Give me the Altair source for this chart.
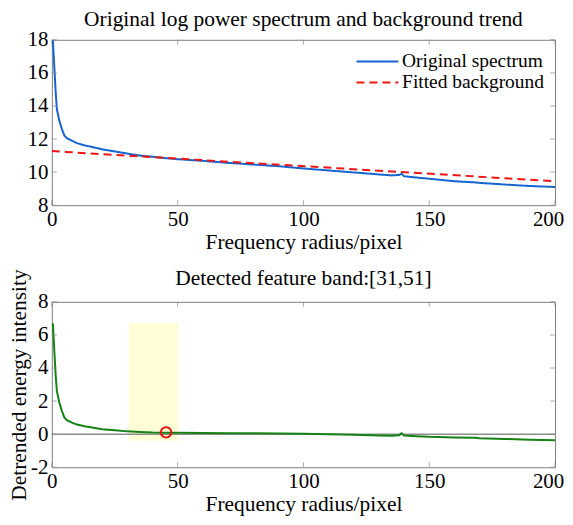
import altair as alt
import pandas as pd

# ---- data ----
freq = [0.4, 1, 1.5, 2, 3, 4, 5, 6, 8, 10, 13, 16, 20, 25, 30, 35, 40, 45, 50,
        60, 70, 80, 90, 100, 110, 120, 130, 135, 138, 139, 140, 145, 150, 160,
        168, 170, 180, 190, 200]
original = [18.0, 16.3, 14.9, 13.8, 13.1, 12.6, 12.2, 12.05, 11.9, 11.75, 11.62,
            11.52, 11.38, 11.25, 11.12, 11.0, 10.93, 10.85, 10.78, 10.68, 10.56,
            10.46, 10.36, 10.22, 10.1, 9.98, 9.86, 9.8, 9.83, 9.9, 9.75, 9.67,
            9.6, 9.45, 9.38, 9.35, 9.25, 9.16, 9.1]
detrended = [6.7, 5.0, 3.6, 2.6, 1.9, 1.4, 1.0, 0.85, 0.7, 0.58, 0.48, 0.4, 0.3,
             0.24, 0.17, 0.13, 0.1, 0.09, 0.08, 0.07, 0.06, 0.05, 0.04, 0.02,
             -0.01, -0.04, -0.08, -0.09, -0.06, 0.05, -0.08, -0.12, -0.16, -0.2,
             -0.22, -0.25, -0.29, -0.33, -0.36]
fit_x = [0, 200]
fit_y = [11.27, 9.45]
band_x = [30.6, 50.3]
band_y = [-0.4, 6.7]
peak_x = [45.4]
peak_y = [0.11]
zero_y = [0]
series_names = ["Original spectrum", "Fitted background"]
x_ticks = [0, 50, 100, 150, 200]
top_y_ticks = [8, 10, 12, 14, 16, 18]
bot_y_ticks = [-2, 0, 2, 4, 6, 8]

FONT = "Liberation Serif"
W, H = 505, 166
TICK_COLOR = "#888888"
XDOM, TOP_YDOM, BOT_YDOM = [0, 200], [8, 18], [-2, 8]

x_axis = alt.Axis(values=x_ticks, title="Frequency radius/pixel", labelOverlap=False,
                  labelPadding=3, titlePadding=2,
                  labelOffset={"condition": {"test": "datum.value == 200", "value": -7},
                               "value": 0})
top_y_axis = alt.Axis(values=top_y_ticks, title=None, labelOverlap=False, labelPadding=4)
bot_y_axis = alt.Axis(values=bot_y_ticks, title="Detrended energy intensity",
                      labelOverlap=False, labelPadding=4, titlePadding=0,
                      labelExpr="replace(datum.label, '\u2212', '-')")


def X(field="x"):
    return alt.X(f"{field}:Q", scale=alt.Scale(domain=XDOM, nice=False), axis=x_axis)


def Y(dom, axis, field="y"):
    return alt.Y(f"{field}:Q", scale=alt.Scale(domain=dom, nice=False), axis=axis)


def frame_ticks(ydom, yticks, yaxis):
    """Inward MATLAB-style ticks on all four edges, placed through the scales."""
    xt = pd.DataFrame({"x": x_ticks})
    yt = pd.DataFrame({"y": yticks})
    xs = alt.Scale(domain=XDOM, nice=False)
    ys = alt.Scale(domain=ydom, nice=False)
    bottom_t = alt.Chart(xt).mark_tick(orient="vertical", size=5, yOffset=-2.5,
                                       color=TICK_COLOR, thickness=1).encode(
        x=X(), y=alt.YDatum(ydom[0], type="quantitative", scale=ys, axis=yaxis))
    top_t = alt.Chart(xt).mark_tick(orient="vertical", size=5, yOffset=2.5,
                                    color=TICK_COLOR, thickness=1).encode(
        x=X(), y=alt.YDatum(ydom[1], type="quantitative", scale=ys, axis=yaxis))
    left_t = alt.Chart(yt).mark_tick(orient="horizontal", size=5, xOffset=2.5,
                                     color=TICK_COLOR, thickness=1).encode(
        y=Y(ydom, yaxis), x=alt.XDatum(XDOM[0], type="quantitative", scale=xs, axis=x_axis))
    right_t = alt.Chart(yt).mark_tick(orient="horizontal", size=5, xOffset=-2.5,
                                      color=TICK_COLOR, thickness=1).encode(
        y=Y(ydom, yaxis), x=alt.XDatum(XDOM[1], type="quantitative", scale=xs, axis=x_axis))
    return [bottom_t, top_t, left_t, right_t]


top_df = pd.concat([
    pd.DataFrame({"x": freq, "y": original, "s": series_names[0]}),
    pd.DataFrame({"x": fit_x, "y": fit_y, "s": series_names[1]}),
])

top_lines = alt.Chart(top_df).mark_line(strokeWidth=2, clip=True).encode(
    x=X(),
    y=Y(TOP_YDOM, top_y_axis),
    color=alt.Color("s:N", scale=alt.Scale(domain=series_names, range=["#1565d0", "#f01515"]),
                    legend=alt.Legend(title=None, orient="none", legendX=317, legendY=12,
                                      symbolType="M-3,0H3", symbolSize=196,
                                      symbolStrokeWidth=2, labelOffset=15,
                                      labelFont=FONT, labelFontSize=19.5,
                                      labelColor="black", rowPadding=0)),
    strokeDash=alt.StrokeDash("s:N", scale=alt.Scale(domain=series_names, range=[[1, 0], [8, 5]]),
                              legend=alt.Legend(title=None)),
)

top = alt.layer(top_lines, *frame_ticks(TOP_YDOM, top_y_ticks, top_y_axis)).properties(
    width=W, height=H,
    title=alt.Title("Original log power spectrum and background trend", offset=-2))

band = alt.Chart(pd.DataFrame({"x": [band_x[0]], "x2": [band_x[1]],
                               "y": [band_y[0]], "y2": [band_y[1]]})).mark_rect(
    color="#fdfcc8", opacity=0.75).encode(
    x=X(), x2="x2:Q", y=Y(BOT_YDOM, bot_y_axis), y2="y2:Q")

zero = alt.Chart(pd.DataFrame({"y": zero_y})).mark_rule(color="#555555", strokeWidth=1).encode(
    y=Y(BOT_YDOM, bot_y_axis))

green = alt.Chart(pd.DataFrame({"x": freq, "y": detrended})).mark_line(
    color="#148214", strokeWidth=2).encode(x=X(), y=Y(BOT_YDOM, bot_y_axis))

peak = alt.Chart(pd.DataFrame({"x": peak_x, "y": peak_y})).mark_point(
    shape="circle", filled=False, color="#ee1111", size=110, strokeWidth=2, opacity=1).encode(
    x=X(), y=Y(BOT_YDOM, bot_y_axis))

bottom = alt.layer(band, zero, green, peak,
                   *frame_ticks(BOT_YDOM, bot_y_ticks, bot_y_axis)).properties(
    width=W, height=H, title=alt.Title("Detected feature band:[31,51]", offset=-21))

chart = alt.vconcat(top, bottom, spacing=14).properties(
    padding={"left": 0, "top": 0, "right": 0, "bottom": 0}
).configure(
    font=FONT
).configure_view(
    stroke="#808080", strokeWidth=1
).configure_axis(
    labelFont=FONT, labelFontSize=21, labelColor="black",
    titleFont=FONT, titleFontSize=21.5, titleFontWeight="normal", titleColor="black",
    grid=False, ticks=False, domain=False, labelPadding=3, titlePadding=1,
    labelOverlap=False, labelFlush=False,
).configure_title(
    font=FONT, fontSize=21.5, fontWeight="normal", color="black", anchor="middle"
)

chart.save("out.html", embed_options={"renderer": "svg", "actions": False})
